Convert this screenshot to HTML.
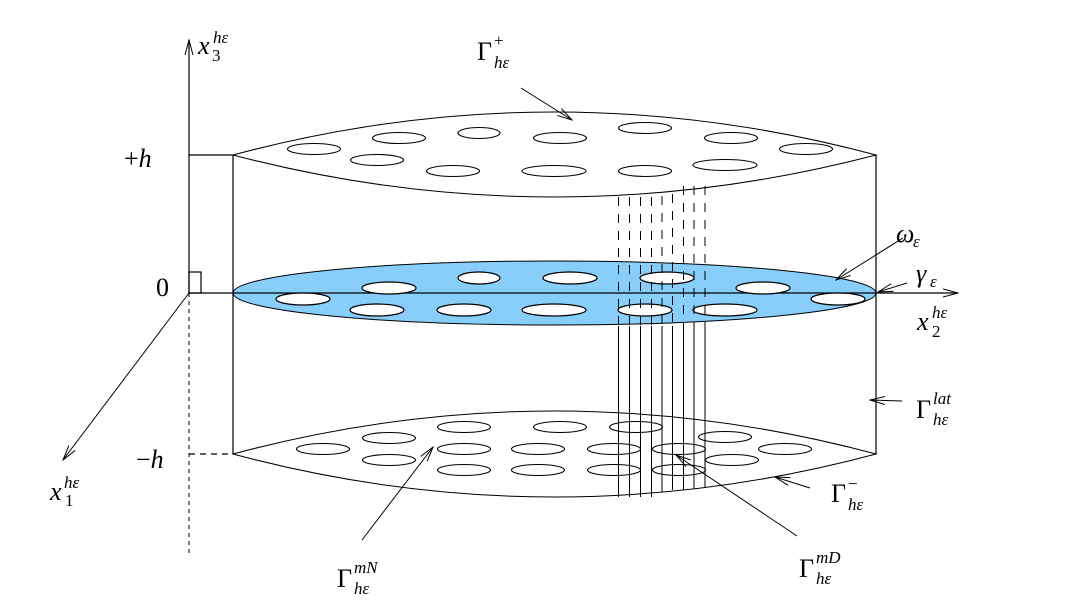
<!DOCTYPE html>
<html><head><meta charset="utf-8"><style>
html,body{margin:0;padding:0;background:#fff;}
svg{display:block;}
text{font-family:"Liberation Serif",serif;font-style:italic;fill:#000;}
.up{font-style:normal;}
</style></head><body>
<svg width="1084" height="609" viewBox="0 0 1084 609" xmlns="http://www.w3.org/2000/svg">
<defs>
<marker id="a" markerWidth="16" markerHeight="10" refX="15" refY="5" orient="auto" markerUnits="userSpaceOnUse">
<path d="M0,1 L15,5 L0,9" fill="none" stroke="#000" stroke-width="1"/>
</marker>
</defs>
<g stroke="#000" fill="none" stroke-width="1.2">
<line x1="189" y1="293" x2="189" y2="40" marker-end="url(#a)"/>
<line x1="189" y1="293" x2="189" y2="556" stroke-dasharray="4,4" stroke-width="1"/>
<line x1="189" y1="293" x2="958" y2="293" marker-end="url(#a)"/>
<line x1="189" y1="293" x2="63" y2="460" marker-end="url(#a)" stroke-width="1"/>
<rect x="189" y="272" width="12" height="21"/>
<line x1="189" y1="155" x2="233" y2="155"/>
<line x1="189" y1="454" x2="233" y2="454" stroke-dasharray="6,5"/>
<line x1="233" y1="155" x2="233" y2="454"/>
<line x1="876" y1="155" x2="876" y2="454"/>
<path d="M233,155 Q554,69 876,155 Q554,239 233,155 Z" fill="#fff" stroke-width="1"/>
</g>
<ellipse cx="554.5" cy="293" rx="321.5" ry="32" fill="#87CEFA" stroke="#000" stroke-width="1"/>
<line x1="233" y1="293" x2="876" y2="293" stroke="#000" stroke-width="1.2"/>
<g fill="#fff" stroke="#000" stroke-width="1.2">
<ellipse cx="479" cy="278" rx="21" ry="6"/>
<ellipse cx="570" cy="278" rx="27" ry="6"/>
<ellipse cx="667" cy="278" rx="27" ry="6"/>
<ellipse cx="389" cy="288" rx="27" ry="6"/>
<ellipse cx="763" cy="288" rx="27" ry="6"/>
<ellipse cx="303" cy="299" rx="27" ry="6"/>
<ellipse cx="838" cy="299" rx="27" ry="6"/>
<ellipse cx="377" cy="310" rx="27" ry="6"/>
<ellipse cx="464" cy="310" rx="27" ry="6"/>
<ellipse cx="554" cy="310" rx="32" ry="6"/>
<ellipse cx="645" cy="310" rx="27" ry="6"/>
<ellipse cx="725" cy="310" rx="32" ry="6"/>
</g>
<g fill="none" stroke="#000" stroke-width="1.1">
<ellipse cx="314" cy="149" rx="26.5" ry="5.5"/>
<ellipse cx="399" cy="138" rx="26.5" ry="5.5"/>
<ellipse cx="479" cy="133" rx="21" ry="5.5"/>
<ellipse cx="560" cy="138" rx="26.5" ry="5.5"/>
<ellipse cx="645" cy="128" rx="26.5" ry="5.5"/>
<ellipse cx="731" cy="138" rx="26.5" ry="5.5"/>
<ellipse cx="806" cy="149" rx="26.5" ry="5.5"/>
<ellipse cx="377" cy="160" rx="26.5" ry="5.5"/>
<ellipse cx="453" cy="171" rx="26.5" ry="5.5"/>
<ellipse cx="554" cy="171" rx="32" ry="5.5"/>
<ellipse cx="645" cy="171" rx="26.5" ry="5.5"/>
<ellipse cx="725" cy="165" rx="32" ry="5.5"/>
</g>
<path d="M233,454 Q554,368 876,454 Q554,540 233,454 Z" fill="#fff" stroke="#000" stroke-width="1"/>
<g fill="none" stroke="#000" stroke-width="1.1">
<ellipse cx="464" cy="427" rx="26.5" ry="5.5"/>
<ellipse cx="560" cy="427" rx="26.5" ry="5.5"/>
<ellipse cx="636" cy="427" rx="26.5" ry="5.5"/>
<ellipse cx="389" cy="438" rx="26.5" ry="5.5"/>
<ellipse cx="725" cy="437" rx="26.5" ry="5.5"/>
<ellipse cx="323" cy="449" rx="26.5" ry="5.5"/>
<ellipse cx="464" cy="449" rx="26.5" ry="5.5"/>
<ellipse cx="538" cy="449" rx="26.5" ry="5.5"/>
<ellipse cx="614" cy="449" rx="26.5" ry="5.5"/>
<ellipse cx="679" cy="449" rx="26.5" ry="5.5"/>
<ellipse cx="785" cy="449" rx="26.5" ry="5.5"/>
<ellipse cx="389" cy="460" rx="26.5" ry="5.5"/>
<ellipse cx="732" cy="460" rx="26.5" ry="5.5"/>
<ellipse cx="464" cy="470" rx="26.5" ry="5.5"/>
<ellipse cx="538" cy="470" rx="26.5" ry="5.5"/>
<ellipse cx="614" cy="470" rx="26.5" ry="5.5"/>
<ellipse cx="679" cy="470" rx="26.5" ry="5.5"/>
</g>
<g stroke="#000" stroke-width="1">
<g stroke-dasharray="9,8">
<line x1="618.5" y1="197" x2="618.5" y2="326"/>
<line x1="629.5" y1="197" x2="629.5" y2="326"/>
<line x1="640.5" y1="197" x2="640.5" y2="326"/>
<line x1="651.5" y1="197" x2="651.5" y2="326"/>
<line x1="662" y1="196" x2="662" y2="326"/>
<line x1="672.5" y1="194" x2="672.5" y2="326"/>
<line x1="683.5" y1="186" x2="683.5" y2="326"/>
<line x1="694" y1="186" x2="694" y2="326"/>
<line x1="705" y1="186" x2="705" y2="326"/>
</g>
<line x1="618.5" y1="326" x2="618.5" y2="497"/>
<line x1="629.5" y1="326" x2="629.5" y2="497"/>
<line x1="640.5" y1="326" x2="640.5" y2="497"/>
<line x1="651.5" y1="326" x2="651.5" y2="497"/>
<line x1="662" y1="326" x2="662" y2="492"/>
<line x1="672.5" y1="326" x2="672.5" y2="490"/>
<line x1="683.5" y1="326" x2="683.5" y2="490"/>
<line x1="694" y1="326" x2="694" y2="489"/>
<line x1="705" y1="326" x2="705" y2="488"/>
</g>
<g stroke="#000" stroke-width="1" fill="none">
<line x1="521" y1="88" x2="572" y2="120" marker-end="url(#a)"/>
<line x1="903" y1="238" x2="836" y2="280" marker-end="url(#a)"/>
<line x1="907" y1="283" x2="878" y2="292" marker-end="url(#a)"/>
<line x1="902" y1="401" x2="870" y2="400" marker-end="url(#a)"/>
<line x1="810" y1="488" x2="775" y2="477" marker-end="url(#a)"/>
<line x1="362" y1="540" x2="433" y2="447" marker-end="url(#a)"/>
<line x1="797" y1="536" x2="676" y2="455" marker-end="url(#a)"/>
</g>
<text x="198" y="54" font-size="26">x</text><text x="213" y="43" font-size="17">hε</text><text x="212" y="61" font-size="17" class="up">3</text>
<text x="124" y="167" font-size="26" class="up">+<tspan font-style="italic">h</tspan></text>
<text x="156" y="296" font-size="26" class="up">0</text>
<text x="136" y="468" font-size="26" class="up">−<tspan font-style="italic">h</tspan></text>
<text x="50" y="500" font-size="26">x</text><text x="64" y="488" font-size="17">hε</text><text x="65" y="506" font-size="17" class="up">1</text>
<text x="917" y="330" font-size="26">x</text><text x="932" y="318" font-size="17">hε</text><text x="932" y="337" font-size="17" class="up">2</text>
<text x="477" y="60" font-size="26" class="up">Γ</text><text x="494" y="46" font-size="17" class="up">+</text><text x="494" y="68" font-size="17">hε</text>
<text x="896" y="242" font-size="26">ω</text><text x="913" y="247" font-size="17">ε</text>
<text x="916" y="282" font-size="26">γ</text><text x="930" y="287" font-size="17">ε</text>
<text x="916" y="418" font-size="26" class="up">Γ</text><text x="933" y="404" font-size="17">lat</text><text x="933" y="425" font-size="17">hε</text>
<text x="831" y="502" font-size="26" class="up">Γ</text><text x="848" y="489" font-size="17" class="up">−</text><text x="848" y="510" font-size="17">hε</text>
<text x="337" y="587" font-size="26" class="up">Γ</text><text x="354" y="573" font-size="17">mN</text><text x="354" y="594" font-size="17">hε</text>
<text x="799" y="577" font-size="26" class="up">Γ</text><text x="816" y="563" font-size="17">mD</text><text x="816" y="584" font-size="17">hε</text>
</svg>
</body></html>
